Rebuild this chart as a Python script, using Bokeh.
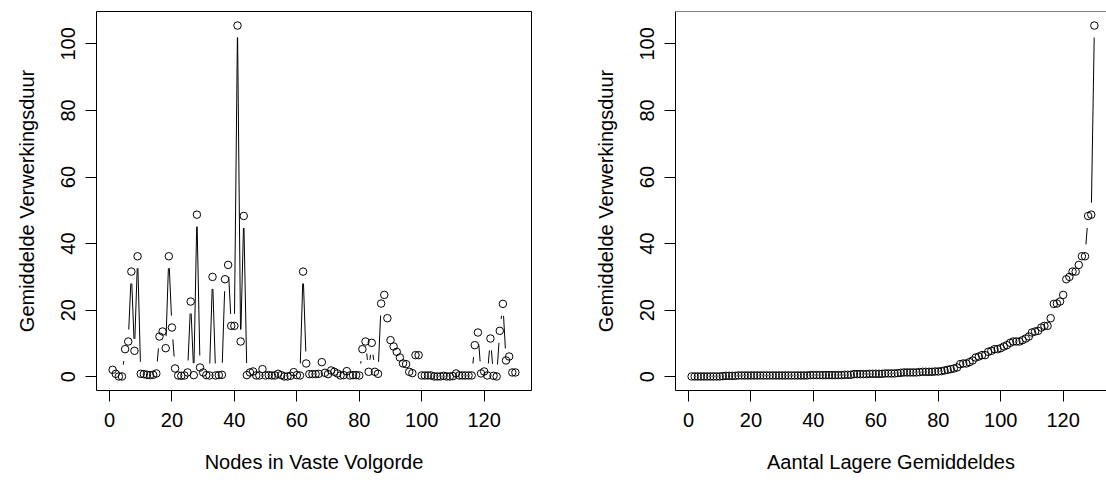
import math
from bokeh.plotting import figure
from bokeh.layouts import row
from bokeh.models import Range1d, FixedTicker, Span
from bokeh.embed import file_html
from bokeh.resources import INLINE

# ---- data ----
durations = [
    2.1, 0.9, 0.1, 0.1, 8.3, 10.6, 31.6, 7.8, 36.2, 0.9,
    0.8, 0.6, 0.5, 0.6, 1.0, 12.1, 13.6, 8.6, 36.2, 14.8,
    2.5, 0.4, 0.3, 0.4, 1.3, 22.6, 0.5, 48.7, 2.8, 1.3,
    0.5, 0.4, 30.0, 0.4, 0.5, 0.6, 29.3, 33.6, 15.3, 15.3,
    105.5, 10.6, 48.3, 0.5, 1.3, 1.6, 0.4, 0.4, 2.3, 0.4,
    0.5, 0.4, 0.4, 0.9, 0.5, 0.1, 0.1, 0.3, 1.4, 0.5,
    0.4, 31.6, 4.0, 0.8, 0.8, 0.8, 0.9, 4.4, 1.2, 0.8,
    1.9, 1.5, 1.0, 0.4, 0.5, 1.7, 0.4, 0.5, 0.5, 0.4,
    8.3, 10.6, 1.5, 10.2, 1.5, 0.9, 22.0, 24.6, 17.6, 11.0,
    9.1, 7.5, 5.8, 4.0, 3.8, 1.5, 1.1, 6.5, 6.5, 0.4,
    0.4, 0.4, 0.4, 0.1, 0.1, 0.1, 0.3, 0.1, 0.1, 0.2,
    1.0, 0.4, 0.4, 0.4, 0.4, 0.4, 9.5, 13.3, 1.0, 1.6,
    0.4, 11.5, 0.3, 0.1, 13.8, 21.9, 4.9, 6.1, 1.3, 1.3,
]
node_index = list(range(1, len(durations) + 1))
sorted_durations = sorted(durations)

x_ticks = [0, 20, 40, 60, 80, 100, 120]
y_ticks = [0, 20, 40, 60, 80, 100]
y_title = "Gemiddelde Verwerkingsduur"
x_title_left = "Nodes in Vaste Volgorde"
x_title_right = "Aantal Lagere Gemiddeldes"

# ---- layout ----
W, H = 553, 486
BT, BB = 11, 96
FH = H - BT - BB
FW_FULL = 435           # width of a complete plot box
FONT = "Liberation Sans"
GAP = 12.0


def r_range(lo, hi):
    d = (hi - lo) * 0.04
    return lo - d, hi + d


def panel(xs, ys, xtitle, border_left, border_right):
    x0, x1 = r_range(min(xs), max(xs))
    y0, y1 = r_range(min(ys), max(ys))
    fw = W - border_left - border_right
    # a box that runs past the page edge is cut off there
    x1 = x0 + (x1 - x0) * fw / FW_FULL
    p = figure(width=W, height=H, x_range=Range1d(x0, x1), y_range=Range1d(y0, y1),
               output_backend="svg", toolbar_location=None,
               min_border_left=border_left, min_border_right=border_right,
               min_border_top=BT, min_border_bottom=BB)
    p.background_fill_color = "white"
    p.border_fill_color = "white"
    p.xgrid.visible = False
    p.ygrid.visible = False
    clipped = fw < FW_FULL
    if clipped:
        p.outline_line_color = None
        p.add_layout(Span(location=y1, dimension="width", line_color="black", line_width=1))
    else:
        p.outline_line_color = "black"
        p.outline_line_width = 1
        p.outline_line_alpha = 1

    # type="b": line segments with a gap around every point
    sx = fw / (x1 - x0)
    sy = FH / (y1 - y0)
    sx0, sy0, sx1, sy1 = [], [], [], []
    for i in range(len(xs) - 1):
        xa, ya, xb, yb = xs[i], ys[i], xs[i + 1], ys[i + 1]
        dx, dy = (xb - xa) * sx, (yb - ya) * sy
        L = math.hypot(dx, dy)
        if L > 2 * GAP:
            ux, uy = dx / L, dy / L
            sx0.append(xa + ux * GAP / sx)
            sy0.append(ya + uy * GAP / sy)
            sx1.append(xb - ux * GAP / sx)
            sy1.append(yb - uy * GAP / sy)
    p.segment(x0=sx0, y0=sy0, x1=sx1, y1=sy1, line_color="black", line_width=1)
    p.scatter(xs, ys, marker="circle", size=7.5, fill_color=None,
              line_color="black", line_width=1)

    for ax in (p.xaxis[0], p.yaxis[0]):
        ax.axis_line_color = "black" if clipped else None
        ax.major_tick_out = 11
        ax.major_tick_in = 0
        ax.minor_tick_line_color = None
        ax.major_tick_line_color = "black"
        ax.major_label_text_font = FONT
        ax.major_label_text_font_size = "20px"
        ax.major_label_text_color = "black"
        ax.axis_label_text_font = FONT
        ax.axis_label_text_font_size = "20px"
        ax.axis_label_text_font_style = "normal"
        ax.axis_label_text_color = "black"
    p.xaxis.ticker = FixedTicker(ticks=x_ticks)
    p.yaxis.ticker = FixedTicker(ticks=y_ticks)
    p.xaxis.major_label_standoff = 11
    p.xaxis.axis_label_standoff = 21
    p.yaxis.major_label_standoff = 10
    p.yaxis.axis_label_standoff = 21
    p.yaxis.major_label_orientation = "vertical"
    p.xaxis.axis_label = xtitle
    p.yaxis.axis_label = y_title
    return p


p1 = panel(node_index, durations, x_title_left, 96, 22)
p2 = panel(node_index, sorted_durations, x_title_right, 122, 0)
layout = row(p1, p2)

open("out.html", "w").write(file_html(layout, INLINE))
